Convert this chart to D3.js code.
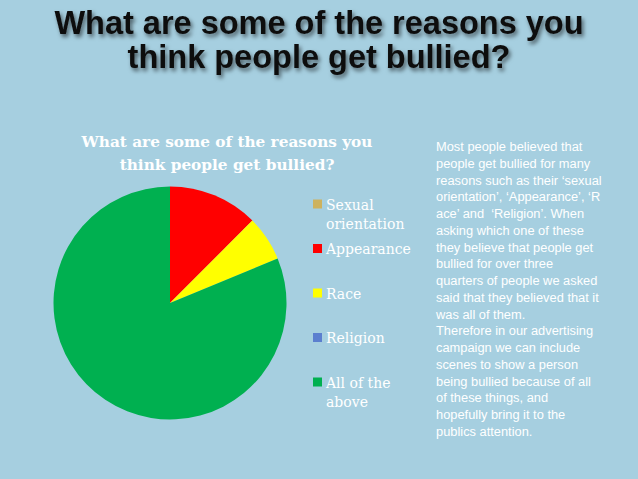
<!DOCTYPE html>
<html><head><meta charset="utf-8">
<script src="https://cdn.jsdelivr.net/npm/d3@7/dist/d3.min.js"></script>
<style>html,body{margin:0;padding:0;background:#a6cfe0;overflow:hidden}svg{display:block}</style>
</head><body><svg id="c" width="638" height="479"></svg>
<script>
const categories = ["Sexual orientation", "Appearance", "Race", "Religion", "All of the above"];
const values = [0, 2, 1, 0, 13];
const colors = ["#cdb25e", "#ff0000", "#ffff00", "#5b7fcf", "#00b050"];
const legendLines = [["Sexual", "orientation"], ["Appearance"], ["Race"], ["Religion"], ["All of the", "above"]];
const slideTitle = ["What are some of the reasons you", "think people get bullied?"];
const chartTitle = ["What are some of the reasons you", "think people get bullied?"];
const noteLines = [
  "Most people believed that",
  "people get bullied for many",
  "reasons such as their \u2018sexual",
  "orientation\u2019, \u2018Appearance\u2019, \u2018R",
  "ace\u2019 and  \u2018Religion\u2019. When",
  "asking which one of these",
  "they believe that people get",
  "bullied for over three",
  "quarters of people we asked",
  "said that they believed that it",
  "was all of them.",
  "Therefore in our advertising",
  "campaign we can include",
  "scenes to show a person",
  "being bullied because of all",
  "of these things, and",
  "hopefully bring it to the",
  "publics attention."
];

const svg = d3.select("#c");
svg.append("rect").attr("width", 638).attr("height", 479).attr("fill", "#a6cfe0");

const defs = svg.append("defs");
const f = defs.append("filter").attr("id", "sh").attr("x", "-10%").attr("y", "-30%").attr("width", "120%").attr("height", "160%");
f.append("feDropShadow").attr("dx", 2).attr("dy", 3).attr("stdDeviation", 2).attr("flood-color", "#000").attr("flood-opacity", 0.55);

// slide title
svg.append("g").attr("filter", "url(#sh)")
  .selectAll("text").data(slideTitle).join("text")
  .attr("x", 319).attr("y", (d, i) => 33.5 + i * 34)
  .attr("text-anchor", "middle")
  .attr("font-family", "'Liberation Sans', Arial, sans-serif")
  .attr("font-weight", "bold").attr("font-size", 32.5)
  .attr("fill", "#111")
  .text(d => d);

// chart title
svg.append("g").selectAll("text").data(chartTitle).join("text")
  .attr("x", 227).attr("y", (d, i) => 147 + i * 23)
  .attr("text-anchor", "middle")
  .attr("font-family", "'DejaVu Serif', serif")
  .attr("font-weight", "bold").attr("font-size", 15.3)
  .attr("fill", "#fff")
  .text(d => d);

// pie
const color = d3.scaleOrdinal().domain(categories).range(colors);
const pie = d3.pie().sort(null).value(d => d.v);
const arc = d3.arc().innerRadius(0).outerRadius(116.5);
const data = categories.map((c, i) => ({c, v: values[i]}));
svg.append("g").attr("transform", "translate(170,303)")
  .selectAll("path").data(pie(data)).join("path")
  .attr("d", arc).attr("fill", d => color(d.data.c));

// legend
const ly = d3.scalePoint().domain(categories).range([204, 382]);
const lg = svg.append("g").selectAll("g").data(categories).join("g")
  .attr("transform", d => `translate(313,${ly(d)})`);
lg.append("rect").attr("x", 0).attr("y", -4.5).attr("width", 9).attr("height", 9)
  .attr("fill", d => color(d));
lg.append("text").attr("x", 13).attr("y", 5.5)
  .attr("font-family", "'DejaVu Serif', serif").attr("font-size", 14).attr("fill", "#fff")
  .selectAll("tspan").data((d, i) => legendLines[i]).join("tspan")
  .attr("x", 13).attr("dy", (d, i) => i ? 19.5 : 0).text(d => d);

// note text
svg.append("text").style("white-space", "pre")
  .attr("font-family", "'Liberation Sans', Arial, sans-serif").attr("font-size", 12.85).attr("fill", "#fff")
  .selectAll("tspan").data(noteLines).join("tspan")
  .attr("x", 436).attr("y", (d, i) => 151 + i * 16.75).text(d => d);
</script></body></html>
